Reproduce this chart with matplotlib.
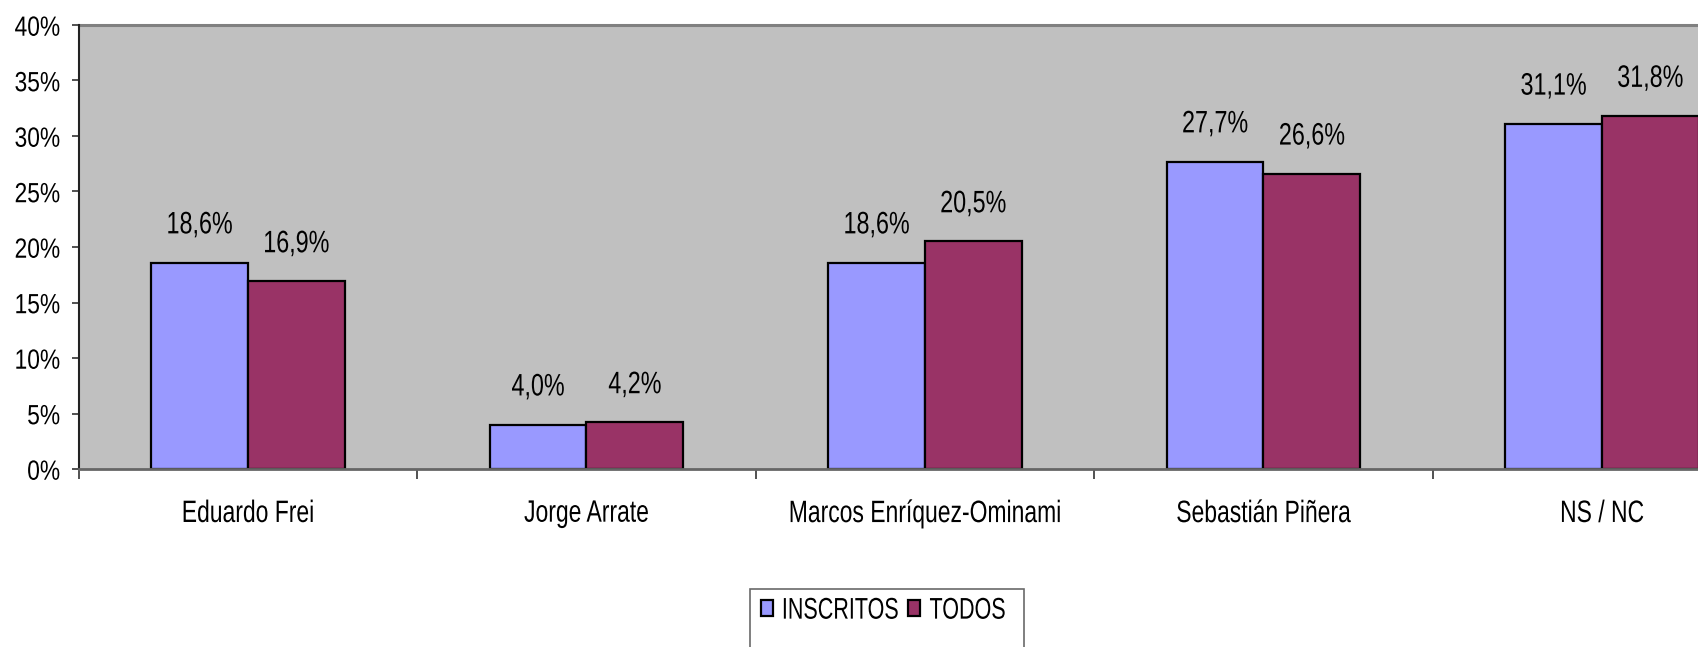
import matplotlib
matplotlib.use("Agg")
import matplotlib.pyplot as plt
import numpy as np
from matplotlib.patheffects import AbstractPathEffect
from matplotlib.transforms import Affine2D
from matplotlib.path import Path

categories = ["Eduardo Frei", "Jorge Arrate", "Marcos Enríquez-Ominami", "Sebastián Piñera", "NS / NC"]
inscritos = [18.6, 4.0, 18.6, 27.7, 31.1]
todos = [16.9, 4.2, 20.5, 26.6, 31.8]
series_names = ["INSCRITOS", "TODOS"]
yticks = [0, 5, 10, 15, 20, 25, 30, 35, 40]

plt.rcParams['font.family'] = ['Liberation Sans', 'DejaVu Sans']


class Tall(AbstractPathEffect):
    """Stretch glyphs vertically so the face looks like a narrow (condensed) font."""
    def __init__(self, sy=1.3, anchor="baseline"):
        super().__init__()
        self.sy = sy
        self.anchor = anchor

    def draw_path(self, renderer, gc, tpath, affine, rgbFace=None):
        ext = tpath.get_extents()
        if self.anchor == "middle":
            y0 = (ext.y0 + ext.y1) / 2
        elif self.anchor == "top":
            y0 = ext.y1
        else:
            y0 = 0.0
        t = Affine2D().translate(0, -y0).scale(1, self.sy).translate(0, y0) + affine
        renderer.draw_path(gc, tpath, t, rgbFace)


W, H = 1698, 647
fig = plt.figure(figsize=(W / 100, H / 100), dpi=100)
left_px, top_px, bottom_px = 78.7, 25, 469
cat_w = 338.5
ax = fig.add_axes([left_px / W, (H - bottom_px) / H, 5 * cat_w / W, (bottom_px - top_px) / H])
ax.set_facecolor("#c0c0c0")

x = np.arange(len(categories))
bw = 1 / 3.5
b1 = ax.bar(x - bw / 2, inscritos, bw, color="#9999ff", edgecolor="black", linewidth=1.6, label=series_names[0])
b2 = ax.bar(x + bw / 2, todos, bw, color="#993366", edgecolor="black", linewidth=1.6, label=series_names[1])


def fmt(v):
    return f"{v:.1f}".replace(".", ",") + "%"


for bars, vals in ((b1, inscritos), (b2, todos)):
    for b, v in zip(bars, vals):
        t = ax.annotate(fmt(v), (b.get_x() + b.get_width() / 2, v), xytext=(0, 21),
                        textcoords="offset points", ha="center", va="baseline", fontsize=16.8)
        t.set_path_effects([Tall(1.33, "baseline")])

ax.set_xlim(-0.5, 4.5)
ax.set_ylim(0, 40)
ax.set_yticks(yticks)
for t in ax.set_yticklabels([f"{v}%" for v in yticks], fontsize=16.4):
    t.set_path_effects([Tall(1.22, "middle")])

ax.set_xticks(np.arange(-0.5, 5.0, 1.0))
ax.set_xticklabels([])
ax.set_xticks(x, minor=True)
for t in ax.set_xticklabels(categories, minor=True, fontsize=16.5):
    t.set_path_effects([Tall(1.35, "top")])
ax.tick_params(axis="x", which="minor", length=0, pad=21)
ax.tick_params(axis="x", which="major", length=7, width=1.2, direction="out", color="#333333")
ax.tick_params(axis="y", length=5, width=1.2, direction="out", pad=8.5, color="#333333")

for s in ["top", "right"]:
    ax.spines[s].set_visible(False)
ax.spines["left"].set_color("#222222")
ax.spines["left"].set_linewidth(1.5)
ax.spines["bottom"].set_color("#666666")
ax.spines["bottom"].set_linewidth(2)
ax.axhline(40, color="#808080", linewidth=2.2, clip_on=False)

# legend
leg_fs = 15.5
leg = fig.legend(loc="upper left", bbox_to_anchor=(750 / W, 1 - 589 / H), ncol=2,
                 fontsize=leg_fs, frameon=True, fancybox=False, edgecolor="#444444",
                 handlelength=0.56, handleheight=0.79, handletextpad=0.42, columnspacing=0.46,
                 borderpad=0.5, borderaxespad=0)
for t in leg.get_texts():
    t.set_path_effects([Tall(1.39, "middle")])
for h in leg.legend_handles:
    h.set_linewidth(1.6)
leg.get_frame().set_linewidth(1.2)


def legend_box(x0, y0, width, height, mutation_size):
    right = x0 + width + 8
    bottom = y0 - 30
    return Path([(x0, bottom), (x0, y0 + height), (right, y0 + height), (right, bottom)],
                [Path.MOVETO, Path.LINETO, Path.LINETO, Path.LINETO])


leg.legendPatch.set_boxstyle(legend_box)

fig.savefig("out.png", dpi=100)
